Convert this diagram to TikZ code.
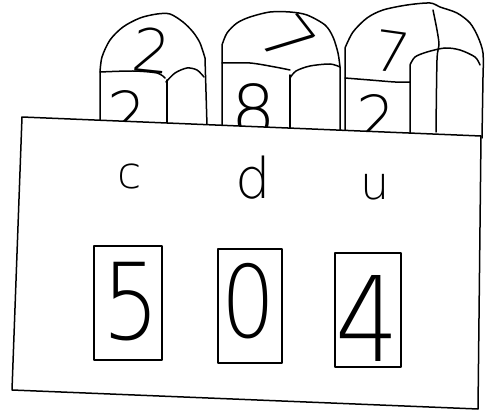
\documentclass[tikz,border=0pt]{standalone}
\usepackage{fontspec}
\newfontfamily\handfont{DejaVuSans-ExtraLight.ttf}
\newcommand{\hfsz}[1]{\handfont\fontsize{#1}{#1}\selectfont}
\begin{document}
\begin{tikzpicture}[x=1pt,y=-1pt,line join=round,line cap=round,
  ink/.style={draw=black,line width=1.5pt},
  glyph/.style={inner sep=0pt,outer sep=0pt},
  digitbox/.style={draw=black,line width=1.5pt,inner sep=0pt,minimum height=114pt}]
\useasboundingbox (0,0) rectangle (485,412);
\fill[white] (0,0) rectangle (485,412);

% ---- left drum ----
\draw[ink] (100,124) -- (100,72)
  plot[smooth] coordinates {(100,72) (102,57) (110,40) (123,27) (140,18) (157,14) (170,14) (183,22) (193,32) (200,43) (205,58)}
  -- (207,126);
\draw[ink] plot[smooth] coordinates {(100,72) (133,71) (157,73) (165,78)};
\draw[ink] plot[smooth] coordinates {(166,82) (175,73) (187,68) (197,70) (204,77)};
\draw[ink] (167,80) -- (167,125);
\node[glyph,font=\hfsz{60},rotate=-6] (ltop) at (152,50) {2};
\node[glyph,font=\hfsz{62}] (lfront) at (127,113) {2};

% ---- middle drum ----
\draw[ink] (222,126) -- (222,45)
  plot[smooth] coordinates {(222,45) (227,33) (237,23) (250,17) (270,12) (290,12) (307,15) (325,25) (333,37) (338,53) (340,67)}
  -- (340,130);
\draw[ink] plot[smooth] coordinates {(222,63) (250,63) (275,67) (290,70)};
\draw[ink] plot[smooth] coordinates {(290,78) (296,71) (310,66) (330,64) (340,67)};
\draw[ink] (290,75) -- (290,132);
\node[glyph,font=\hfsz{66},rotate=-52] (mtop) at (288,40) {7};
\node[glyph,font=\hfsz{70}] (mfront) at (254,110) {8};

% ---- right drum ----
\draw[ink] (345,135) -- (345,48)
  plot[smooth] coordinates {(345,48) (353,32) (367,18) (383,10) (407,5) (430,3) (440,7) (457,13) (470,23) (478,37) (483,53) (483,77)}
  -- (482,138);
\draw[ink] plot[smooth] coordinates {(345,78) (370,80) (395,82) (410,82)};
\draw[ink] (410,136) -- (410,65)
  plot[smooth] coordinates {(410,65) (415,57) (427,52) (445,48) (460,50) (475,57) (480,65)};
\draw[ink] plot[smooth] coordinates {(433,10) (437,30) (439,45) (437,60) (436,132)};
\node[glyph,font=\hfsz{56},rotate=-8] (rtop) at (392,52) {7};
\node[glyph,font=\hfsz{62}] (rfront) at (376,117) {2};

% ---- front panel ----
\draw[ink,fill=white] (22,117) -- (481,136) -- (478,409) -- (12,390) -- cycle;

\node[glyph,font=\hfsz{44}] (c) at (130,176) {c};
\node[glyph,font=\hfsz{56}] (d) at (253,178) {d};
\node[glyph,font=\hfsz{46}] (u) at (375,187) {u};

\node[digitbox,minimum width=68pt] (box5) at (128,303) {};
\node[digitbox,minimum width=64pt] (box0) at (250,306) {};
\node[digitbox,minimum width=66pt] (box4) at (368,310) {};
\node[glyph,font=\hfsz{106},xscale=0.85] (n5) at (131,302) {5};
\node[glyph,font=\hfsz{100},xscale=0.85] (n0) at (249,301) {0};
\node[glyph,font=\hfsz{118},xscale=0.85] (n4) at (367,318) {4};
\end{tikzpicture}
\end{document}
